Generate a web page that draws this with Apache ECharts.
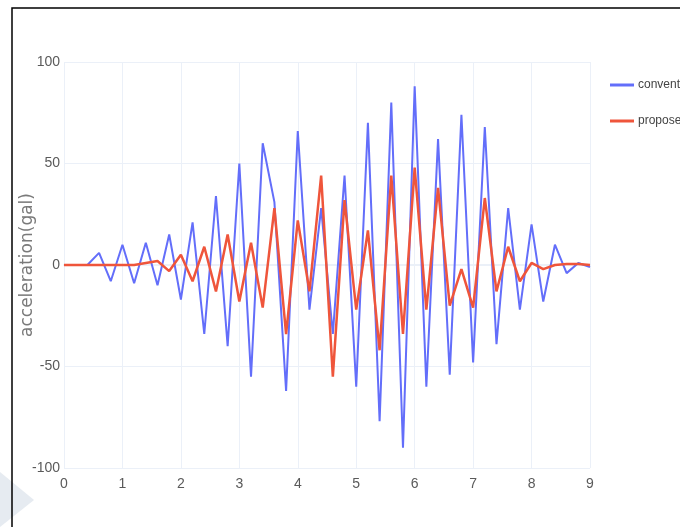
<!DOCTYPE html>
<html>
<head>
<meta charset="utf-8">
<script src="https://cdn.jsdelivr.net/npm/echarts@6/dist/echarts.min.js"></script>
<style>
html,body{margin:0;padding:0;background:#fff;}
#chart{width:680px;height:527px;}
</style>
</head>
<body>
<div id="chart"></div>
<script>
var timeValues = [0, 0.2, 0.4, 0.6, 0.8, 1.0, 1.2, 1.4, 1.6, 1.8,
  2.0, 2.2, 2.4, 2.6, 2.8, 3.0, 3.2, 3.4, 3.6, 3.8,
  4.0, 4.2, 4.4, 4.6, 4.8, 5.0, 5.2, 5.4, 5.6, 5.8,
  6.0, 6.2, 6.4, 6.6, 6.8, 7.0, 7.2, 7.4, 7.6, 7.8,
  8.0, 8.2, 8.4, 8.6, 8.8, 9.0];
var conventional = [0, 0, 0, 6, -8, 10, -9, 11, -10, 15,
  -17, 21, -34, 34, -40, 50, -55, 60, 31, -62,
  66, -22, 28, -34, 44, -60, 70, -77, 80, -90,
  88, -60, 62, -54, 74, -48, 68, -39, 28, -22,
  20, -18, 10, -4, 1, -1];
var proposed = [0, 0, 0, 0, 0, 0, 0, 1, 2, -3,
  5, -8, 9, -13, 15, -18, 11, -21, 28, -34,
  22, -13, 44, -55, 32, -22, 17, -42, 44, -34,
  48, -22, 38, -20, -2, -21, 33, -13, 9, -8,
  1, -2, 0, 0.5, 0.5, 0];
var seriesNames = ['conventional', 'proposed'];
var yTitle = 'acceleration(gal)';

function pairs(xs, ys) {
  var out = [];
  for (var i = 0; i < xs.length; i++) out.push([xs[i], ys[i]]);
  return out;
}

var tickFont = "'Liberation Sans', Arial, sans-serif";
var chart = echarts.init(document.getElementById('chart'), null, {renderer: 'canvas'});
chart.setOption({
  animation: false,
  backgroundColor: '#ffffff',
  grid: {left: 64, right: 90, top: 62, bottom: 59, containLabel: false},
  legend: {
    orient: 'vertical',
    left: 605,
    top: 73,
    icon: 'rect',
    itemWidth: 24,
    itemHeight: 3,
    itemGap: 22,
    textStyle: {color: '#444', fontSize: 12, fontFamily: tickFont, lineHeight: 14, padding: [0, 0, 0, -1]},
    data: seriesNames
  },
  xAxis: {
    type: 'value',
    min: 0, max: 9, interval: 1,
    axisLine: {show: true, onZero: true, lineStyle: {color: '#ebf0f8', width: 2}},
    axisTick: {show: false},
    axisLabel: {color: '#5a5a5a', fontSize: 14, fontFamily: tickFont, margin: 9},
    splitLine: {show: true, lineStyle: {color: '#ebf0f8', width: 1}}
  },
  yAxis: {
    type: 'value',
    min: -100, max: 100, interval: 50,
    name: yTitle,
    nameLocation: 'middle',
    nameGap: 28,
    nameMoveOverlap: false,
    nameTextStyle: {color: '#7a7a7a', fontSize: 17, fontFamily: "'DejaVu Sans', sans-serif"},
    axisLine: {show: false},
    axisTick: {show: false},
    axisLabel: {color: '#5a5a5a', fontSize: 14, fontFamily: tickFont, margin: 4},
    splitLine: {show: true, lineStyle: {color: '#ebf0f8', width: 1}}
  },
  series: [
    {
      name: seriesNames[0],
      type: 'line',
      symbol: 'none',
      data: pairs(timeValues, conventional),
      lineStyle: {color: '#636efa', width: 2},
      itemStyle: {color: '#636efa'},
      z: 2
    },
    {
      name: seriesNames[1],
      type: 'line',
      symbol: 'none',
      data: pairs(timeValues, proposed),
      lineStyle: {color: '#ef553b', width: 2.5},
      itemStyle: {color: '#ef553b'},
      z: 3
    }
  ],
  graphic: [
    {type: 'polygon', shape: {points: [[0, 472], [34, 500], [0, 527]]}, style: {fill: '#e6ebf1'}, silent: true},
    {type: 'polyline', shape: {points: [[12, 527], [12, 8], [680, 8]]}, style: {stroke: '#000', lineWidth: 1.5, fill: null}, silent: true}
  ]
});
</script>
</body>
</html>
